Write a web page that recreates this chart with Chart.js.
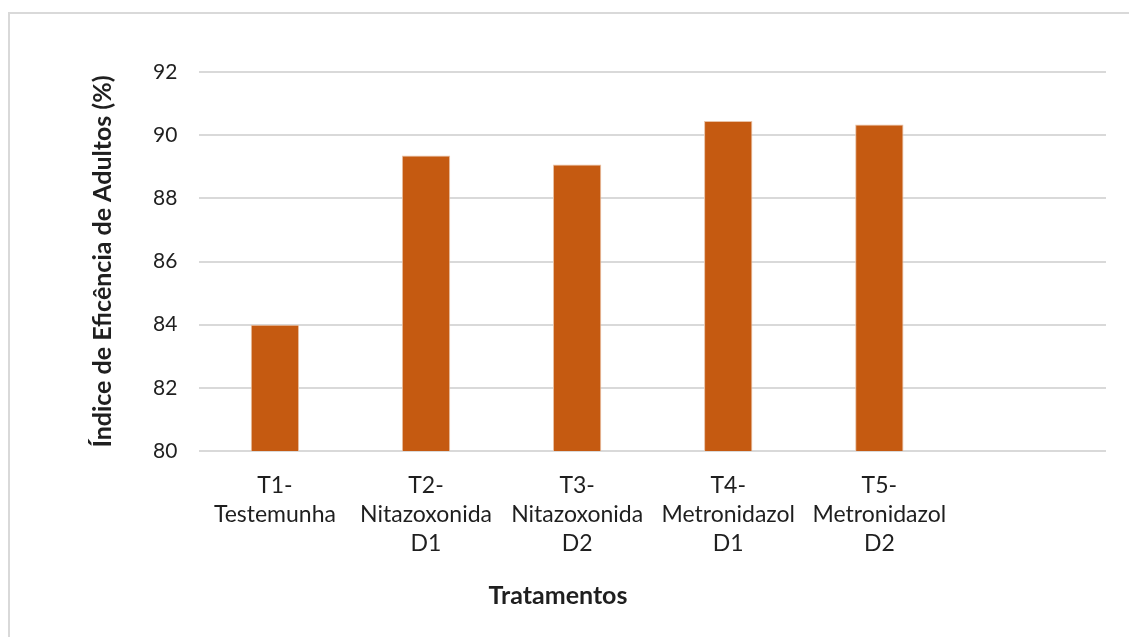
<!DOCTYPE html>
<html>
<head>
<meta charset="utf-8">
<script src="https://cdn.jsdelivr.net/npm/chart.js@4.4.1/dist/chart.umd.min.js"></script>
<style>
  html, body { margin: 0; padding: 0; background: #fff; overflow: hidden; }
  #frame {
    position: absolute; left: 8px; top: 12px;
    width: 2000px; height: 2000px;
    border: 2px solid #d9d9d9;
  }
  #wrap { position: absolute; left: 0; top: 0; width: 1129px; height: 637px; }
</style>
</head>
<body>
<div id="frame"></div>
<div id="wrap"><canvas id="myChart"></canvas></div>
<script>
// data
const categories = [
  ["T1-", "Testemunha"],
  ["T2-", "Nitazoxonida", "D1"],
  ["T3-", "Nitazoxonida", "D2"],
  ["T4-", "Metronidazol", "D1"],
  ["T5-", "Metronidazol", "D2"],
  ""
];
const eficiencia = [84.0, 89.36, 89.07, 90.45, 90.34, null];
const yTicks = [80, 82, 84, 86, 88, 90, 92];

const textColor = "#1f1f1f";
const fontFamily = "Lato, 'Open Sans', sans-serif";

Chart.defaults.font.family = fontFamily;
Chart.defaults.color = textColor;

const ctx = document.getElementById("myChart").getContext("2d");

const config = {
  type: "bar",
  data: {
    labels: categories,
    datasets: [
      {
        label: "Índice de Eficência de Adultos (%)",
        data: eficiencia,
        backgroundColor: "#C55A11",
        borderColor: "#E9C2A6",
        borderWidth: 1,
        barPercentage: 0.32,
        categoryPercentage: 1,
      },
    ],
  },
  options: {
    responsive: true,
    maintainAspectRatio: false,
    animation: false,
    layout: {
      padding: { left: 10, right: 23, top: 72, bottom: 10 },
    },
    plugins: {
      legend: { display: false },
      tooltip: { enabled: false },
      title: {
        display: true,
        position: "bottom",
        text: "Tratamentos",
        color: textColor,
        font: { size: 25, weight: "bold", family: fontFamily },
        padding: { top: 3, bottom: 16 },
      },
    },
    scales: {
      x: {
        grid: { display: false, drawTicks: false },
        border: { display: false },
        ticks: {
          color: textColor,
          padding: 20,
          maxRotation: 0,
          autoSkip: false,
          font: { size: 23, lineHeight: 1.26 },
        },
      },
      y: {
        min: 80,
        max: 92,
        afterBuildTicks: (scale) => {
          scale.ticks = yTicks.map((v) => ({ value: v }));
        },
        grid: { color: "#d9d9d9", lineWidth: 2, drawTicks: false },
        border: { display: false },
        ticks: {
          color: textColor,
          padding: 22,
          font: { size: 21 },
        },
        title: {
          display: true,
          text: "Índice de Eficência de Adultos (%)",
          color: textColor,
          font: { size: 25, weight: "bold" },
          padding: { top: 78, bottom: 13 },
        },
      },
    },
  },
};

const newChart = new Chart(ctx, config);
</script>
</body>
</html>
